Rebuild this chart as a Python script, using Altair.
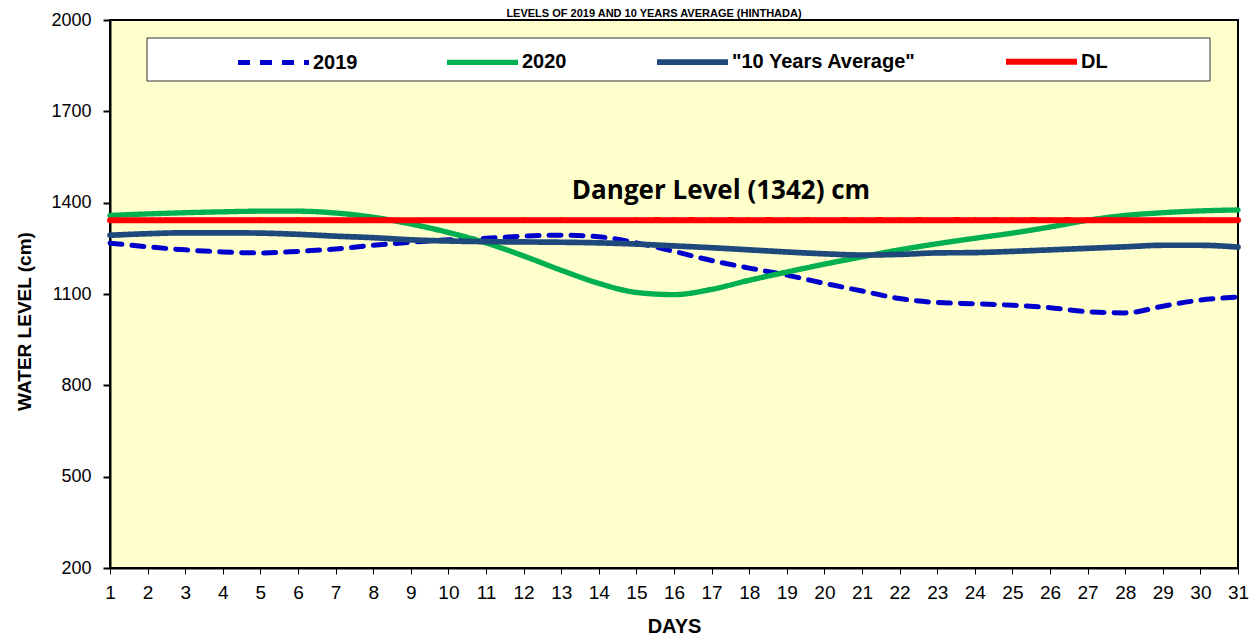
import altair as alt
import pandas as pd

days = list(range(1, 32))
y2019 = [1267, 1255, 1245, 1238, 1235, 1240, 1248, 1260, 1270, 1278, 1283, 1290, 1293, 1288, 1268, 1240,
         1210, 1185, 1162, 1135, 1110, 1085, 1072, 1068, 1063, 1055, 1042, 1038, 1060, 1080, 1090]
y2020 = [1358, 1363, 1367, 1370, 1372, 1372, 1366, 1352, 1330, 1302, 1268, 1225, 1178, 1135, 1105, 1098,
         1115, 1145, 1172, 1198, 1222, 1245, 1265, 1283, 1300, 1320, 1342, 1358, 1367, 1373, 1376]
yavg = [1293, 1298, 1301, 1301, 1300, 1296, 1290, 1285, 1278, 1274, 1272, 1271, 1270, 1268, 1264, 1258,
        1252, 1245, 1238, 1232, 1228, 1230, 1235, 1236, 1240, 1245, 1250, 1255, 1260, 1260, 1254]
dl = [1342] * 31
series_names = ["2019", "2020", '"10 Years Average"', "DL"]
colors = ["#0000CC", "#00B050", "#1F497D", "#FF0000"]
y_ticks = [200, 500, 800, 1100, 1400, 1700, 2000]

rows = []
for i, (name, vals) in enumerate(zip(series_names, [y2019, y2020, yavg, dl])):
    for d, v in zip(days, vals):
        rows.append({"day": d, "series": name, "level": v, "k": i})
df = pd.DataFrame(rows)

ann = pd.DataFrame({"day": [17.25], "level": [1437], "label": ["Danger Level (1342) cm"]})

xs = alt.X("day:Q", scale=alt.Scale(domain=[1, 31], nice=False),
           axis=alt.Axis(values=days, tickCount=40, title="DAYS", format="d", grid=False,
                         labelOverlap=False, labelFlush=False,
                         labelFont="Liberation Sans", labelFontSize=19, labelColor="black",
                         labelPadding=9, tickSize=6, tickColor="black",
                         domainColor="black", domainWidth=2,
                         titleFont="Liberation Sans", titleFontSize=20, titleFontWeight="bold",
                         titlePadding=14, titleColor="black"))
ys = alt.Y("level:Q", scale=alt.Scale(domain=[200, 2000], nice=False),
           axis=alt.Axis(values=y_ticks, title="WATER LEVEL (cm)", grid=False, format="d",
                         labelFont="Liberation Sans", labelFontSize=18, labelColor="black",
                         labelPadding=12, tickSize=7, tickColor="black", tickWidth=2,
                         domainColor="black", domainWidth=2,
                         titleFont="Liberation Sans", titleFontSize=19, titleFontWeight="bold",
                         titleColor="black", titleX=-86, titleY=301, titleAngle=270,
                         titleAlign="center", titleBaseline="middle"))

box = alt.Chart(pd.DataFrame({"a": [0]})).mark_rect(fill="white", stroke="#333333", strokeWidth=1).encode(
    x=alt.value(37), x2=alt.value(1100), y=alt.value(18), y2=alt.value(61))

lines = alt.Chart(df).mark_line(interpolate="monotone", strokeCap="round").encode(
    x=xs, y=ys,
    color=alt.Color("series:N", scale=alt.Scale(domain=series_names, range=colors),
                    legend=alt.Legend(title=None, orient="none", legendX=125, legendY=3,
                                      direction="horizontal", columns=4, columnPadding=78,
                                      symbolType="stroke", symbolSize=5041, labelOffset=1,
                                      labelLimit=400,
                                      labelFont="Liberation Sans", labelFontSize=20,
                                      labelFontWeight="bold", labelColor="black", padding=0)),
    strokeDash=alt.StrokeDash("series:N", scale=alt.Scale(domain=series_names,
                                                           range=[[12, 10], [1, 0], [1, 0], [1, 0]])),
    strokeWidth=alt.StrokeWidth("series:N", scale=alt.Scale(domain=series_names, range=[5, 6, 7, 6])),
    order=alt.Order("k:Q"),
)

text = alt.Chart(ann).mark_text(font="Open Sans", fontSize=26, fontWeight="bold", color="black").encode(
    x="day:Q", y="level:Q", text="label:N")

title = alt.Chart(pd.DataFrame({"t": ["LEVELS OF 2019  AND 10 YEARS AVERAGE (HINTHADA)"]})).mark_text(
    font="Liberation Sans", fontSize=11, fontWeight="bold", baseline="alphabetic", align="center",
    color="black").encode(x=alt.value(544), y=alt.value(-3), text="t:N")

chart = alt.layer(box, lines, text, title).properties(
    width=1128, height=548,
    autosize=alt.AutoSizeParams(type="none"),
    padding={"left": 102, "top": 12, "right": 14, "bottom": 68},
).configure_view(fill="#FFFFCC", stroke="black", strokeWidth=2)

chart.save("out.html", embed_options={"renderer": "svg", "actions": False})
